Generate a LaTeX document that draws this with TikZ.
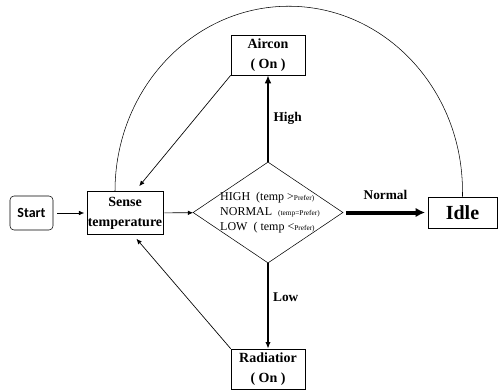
\documentclass[tikz,border=0pt]{standalone}
\usepackage{fontspec}
\setmainfont{Liberation Serif}
\newfontfamily\startfont{Carlito}
\usetikzlibrary{shapes.geometric}
\usetikzlibrary{arrows.meta}

\newcommand\pref{\fontsize{5.5}{6}\selectfont}

\tikzset{
  state/.style={draw,rectangle,minimum width=55.5pt,minimum height=30pt,inner sep=1pt,align=center,font=\bfseries\fontsize{10.5}{15}\selectfont},
  flow/.style={-{Latex[length=4pt,width=3.5pt]},line width=0.5pt},
  branch/.style={font=\bfseries\fontsize{10}{12}\selectfont}
}

\begin{document}
\begin{tikzpicture}[x=0.75pt,y=0.75pt]
  \useasboundingbox (0,0) rectangle (498,389);
  % Place nodes
  \node [draw,rounded corners=3pt,minimum width=32.25pt,minimum height=25.5pt,font=\startfont\bfseries\fontsize{10.5}{12}\selectfont] (start) at (31.5,176) {Start};
  \node [state,minimum height=32.25pt,inner sep=0.5pt] (sense) at (125,176) {Sense\\temperature};
  \node [diamond,draw,minimum width=112.5pt,minimum height=75.75pt,inner sep=0pt] (check) at (268,176.5) {};
  \node [align=left,font=\fontsize{9}{11.25}\selectfont] (conds) at (270,176) {HIGH\ \ (temp >{\pref Prefer)}\\NORMAL\ \ {\pref(temp=Prefer)}\\LOW\ \ ( temp <{\pref Prefer)}};
  \node [state] (aircon) at (268,334) {Aircon\\( On )};
  \node [state] (radiator) at (268,20) {Radiatior\\( On )};
  \node [state,minimum width=51.75pt,minimum height=23.25pt,font=\bfseries\fontsize{15}{18}\selectfont] (idle) at (462.5,176.5) {Idle};

  % Connectors
  \draw [flow,shorten <=3pt,shorten >=2pt] (start) -- (sense);
  \draw [flow,shorten <=1pt] (sense) -- (check);
  \draw [-{Latex[length=6pt,width=5pt]},line width=1.6pt] (check.north) -- (aircon.south) node [branch,midway,right] {High};
  \draw [-{Latex[length=5pt,width=4pt]},line width=1pt] (check.south) -- (radiator.north) node [branch,pos=0.4,right] {Low};
  \draw [-{Latex[length=7pt,width=7pt]},line width=3pt,shorten <=2pt,shorten >=2pt] (check.east) -- (idle.west) node [branch,midway,above=5pt] {Normal};
  \draw [flow,shorten >=5pt] (aircon.south west) -- ([xshift=7.5pt]sense.north);
  \draw [flow,shorten >=4pt] (radiator.north west) -- ([xshift=6pt]sense.south);
  \draw ([xshift=-7.5pt]sense.north) arc [start angle=180,end angle=0,x radius=130.3pt,y radius=138.75pt] -- (idle.north);
\end{tikzpicture}
\end{document}
